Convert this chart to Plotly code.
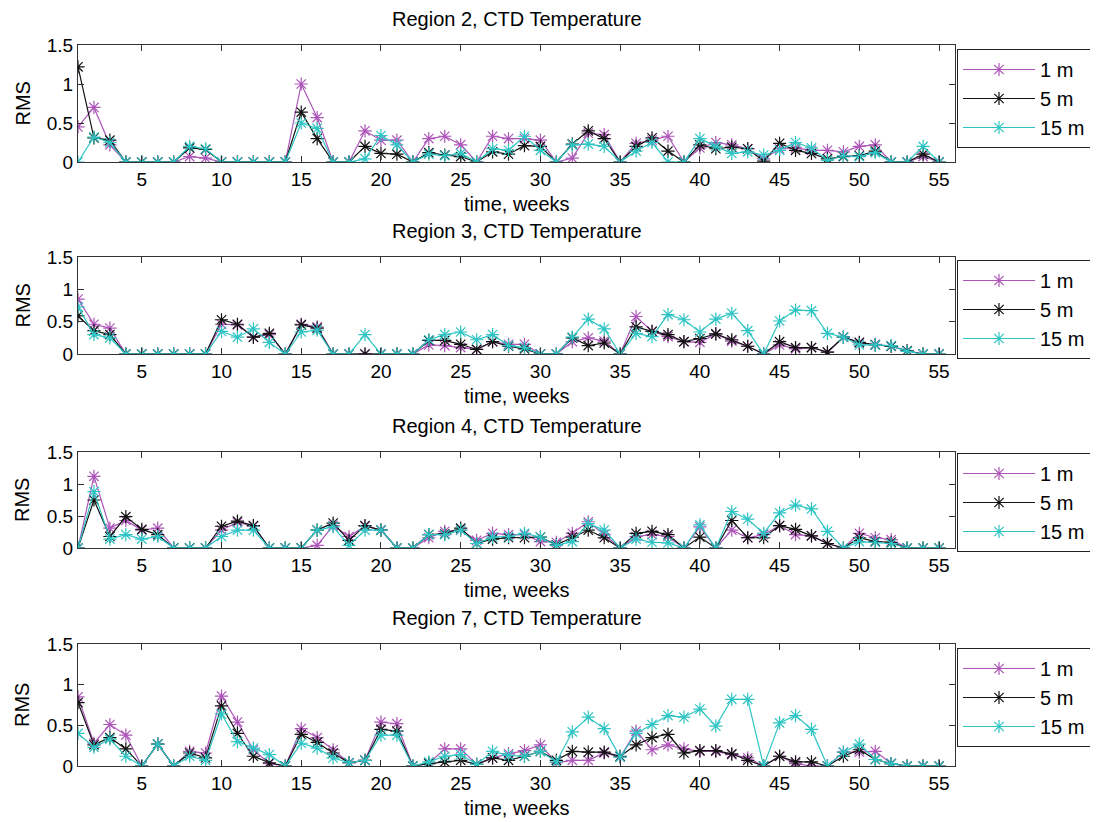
import plotly.graph_objects as go

weeks = list(range(1, 56))

regions = ["Region 2, CTD Temperature", "Region 3, CTD Temperature",
           "Region 4, CTD Temperature", "Region 7, CTD Temperature"]
depth_labels = ["1 m", "5 m", "15 m"]

# Region 2
r2_1m = [0.45,0.70,0.22,0,0,0,0,0.07,0.05,0, 0,0,0,0,1.00,0.57,0,0,0.40,0.28,
         0.28,0,0.30,0.33,0.22,0,0.33,0.30,0.30,0.28, 0,0.05,0.37,0.35,0,0.24,0.28,0.33,0,0.18,
         0.25,0.22,0.17,0.04,0.17,0.18,0.15,0.15,0.13,0.20, 0.22,0,0,0.07,0]
r2_5m = [1.22,0.31,0.28,0,0,0,0,0.18,0.16,0, 0,0,0,0,0.64,0.30,0,0,0.20,0.11,
         0.10,0,0.12,0.09,0.07,0,0.13,0.10,0.21,0.20, 0,0.23,0.40,0.30,0,0.20,0.31,0.14,0,0.22,
         0.17,0.19,0.17,0.01,0.24,0.15,0.11,0.04,0.07,0.08, 0.14,0,0,0.10,0]
r2_15m = [0,0.32,0.25,0,0,0,0,0.20,0.17,0, 0,0,0,0,0.50,0.43,0,0,0.04,0.34,
          0.22,0,0.10,0.08,0.11,0,0.17,0.15,0.33,0.15, 0,0.22,0.23,0.20,0,0.14,0.25,0,0,0.30,
          0.20,0.11,0.13,0.09,0.15,0.25,0.18,0.02,0.08,0.07, 0.12,0,0,0.20,0]

# Region 3
r3_1m = [0.85,0.46,0.40,0,0,0,0,0,0,0.46, 0.45,0.26,0.30,0,0.46,0.42,0,0,0,0,
         0,0,0.14,0.13,0.10,0.07,0.19,0.15,0.15,0, 0,0.19,0.25,0.20,0,0.58,0.35,0.27,0.19,0.18,
         0.31,0.20,0.12,0,0.14,0.08,0.10,0.03,0.26,0.17, 0.15,0.12,0.05,0,0]
r3_5m = [0.59,0.36,0.30,0,0,0,0,0,0,0.53, 0.46,0.26,0.32,0,0.45,0.40,0,0,0,0,
         0,0,0.21,0.21,0.15,0.07,0.19,0.12,0.08,0, 0,0.25,0.13,0.17,0,0.42,0.35,0.30,0.19,0.24,
         0.31,0.22,0.12,0,0.19,0.10,0.10,0.03,0.26,0.18, 0.14,0.12,0.05,0,0]
r3_15m = [0.73,0.30,0.25,0,0,0,0,0,0,0.35, 0.26,0.39,0.18,0,0.34,0.37,0,0,0.30,0,
          0,0,0.22,0.30,0.34,0.22,0.30,0.13,0.10,0, 0,0.26,0.54,0.39,0,0.32,0.27,0.61,0.53,0.34,
          0.54,0.63,0.36,0,0.51,0.68,0.67,0.32,0.26,0.14, 0.14,0.13,0.04,0,0]

# Region 4
r4_1m = [0,1.12,0.31,0.43,0.28,0.31,0,0,0,0.28, 0.40,0.34,0,0,0,0.04,0.35,0.18,0.34,0.28,
         0,0,0.16,0.26,0.28,0.12,0.23,0.21,0.21,0.10, 0.09,0.23,0.41,0.21,0,0.18,0.21,0.18,0,0.33,
         0,0.28,0.16,0.21,0.35,0.21,0.19,0.07,0,0.23, 0.16,0.13,0,0,0]
r4_5m = [0,0.75,0.18,0.49,0.29,0.21,0,0,0,0.34, 0.42,0.35,0,0,0,0.28,0.39,0.12,0.35,0.28,
         0,0,0.21,0.22,0.31,0.07,0.14,0.16,0.16,0.17, 0.05,0.17,0.28,0.16,0,0.23,0.26,0.21,0,0.17,
         0,0.43,0.16,0.16,0.35,0.29,0.19,0.07,0,0.16, 0.10,0.09,0,0,0]
r4_15m = [0,0.88,0.14,0.21,0.14,0.18,0,0,0,0.18, 0.28,0.28,0,0,0,0.28,0.33,0.04,0.28,0.28,
          0,0,0.21,0.21,0.28,0.07,0.17,0.18,0.23,0.17, 0.04,0.10,0.38,0.28,0,0.14,0.09,0.08,0,0.36,
          0,0.57,0.45,0.23,0.55,0.67,0.61,0.26,0,0.10, 0.09,0.07,0,0,0]

# Region 7
r7_1m = [0.85,0.28,0.51,0.38,0,0.27,0,0.18,0.16,0.86, 0.54,0.20,0.03,0,0.46,0.35,0.20,0.04,0.07,0.54,
         0.52,0,0.03,0.21,0.21,0.02,0.10,0.15,0.19,0.26, 0.04,0.07,0.07,0.16,0.11,0.43,0.20,0.26,0.21,0.18,
         0.18,0.14,0.10,0,0.12,0.03,0,0,0.17,0.17, 0.18,0.03,0,0,0]
r7_5m = [0.78,0.26,0.35,0.21,0,0.27,0,0.16,0.10,0.74, 0.40,0.12,0.04,0,0.39,0.29,0.16,0.04,0.07,0.45,
         0.43,0,0.03,0.05,0.07,0.02,0.10,0.07,0.12,0.18, 0.07,0.18,0.17,0.17,0.12,0.26,0.35,0.39,0.16,0.19,
         0.19,0.15,0.07,0,0.12,0.05,0.05,0,0.12,0.20, 0.08,0.03,0,0,0]
r7_15m = [0.40,0.23,0.33,0.12,0,0.27,0,0.12,0.07,0.64, 0.30,0.22,0.14,0,0.28,0.22,0.10,0.04,0.07,0.38,
          0.38,0,0.05,0.12,0.14,0.02,0.18,0.13,0.12,0.18, 0.05,0.42,0.60,0.46,0.11,0.40,0.51,0.62,0.60,0.70,
          0.49,0.82,0.82,0,0.53,0.62,0.45,0,0.17,0.27, 0.08,0.03,0,0,0]

panel_series = [
    [r2_1m, r2_5m, r2_15m],
    [r3_1m, r3_5m, r3_15m],
    [r4_1m, r4_5m, r4_15m],
    [r7_1m, r7_5m, r7_15m],
]

colors = ["#AD55B9", "#111111", "#2EC4C4"]
W, H = 1098, 822
OFF = 8  # page body offset of the plot div
FONT = "Liberation Sans, Arial, Helvetica, sans-serif"

# panel pixel geometry in the screenshot (top, bottom)
panels_px = [(45, 162), (257, 354), (452, 548), (644, 766)]
legend_top_px = [49, 260, 453, 648]
x_left, x_right = 78, 955


def px_x(v):
    return (v - OFF) / W


def px_y(v):
    return 1 - (v - OFF) / H


fig = go.Figure()
layout = dict(
    width=W, height=H,
    margin=dict(l=0, r=0, t=0, b=0, autoexpand=False),
    paper_bgcolor="white", plot_bgcolor="white",
    font=dict(family=FONT, size=19, color="black"),
    showlegend=True,
    annotations=[],
)

for i, series in enumerate(panel_series):
    n = i + 1
    xa = "x" if n == 1 else f"x{n}"
    ya = "y" if n == 1 else f"y{n}"
    lg = "legend" if n == 1 else f"legend{n}"
    for j, vals in enumerate(series):
        fig.add_trace(go.Scatter(
            x=weeks, y=vals, name=depth_labels[j], mode="lines+markers",
            xaxis=xa, yaxis=ya, legend=lg,
            line=dict(color=colors[j], width=1.2),
            marker=dict(symbol="asterisk-open", size=11,
                        line=dict(color=colors[j], width=1.2)),
        ))
    top, bot = panels_px[i]
    xkey = "xaxis" if n == 1 else f"xaxis{n}"
    ykey = "yaxis" if n == 1 else f"yaxis{n}"
    layout[xkey] = dict(
        domain=[px_x(x_left), px_x(x_right)], anchor=ya, range=[1, 56],
        tickmode="array", tickvals=list(range(5, 56, 5)),
        ticks="inside", ticklen=6, tickcolor="#333", tickwidth=1,
        showline=True, linecolor="#333", linewidth=1, mirror="ticks",
        showgrid=False, zeroline=False, automargin=False,
        tickfont=dict(size=19, family=FONT),
    )
    layout[ykey] = dict(
        domain=[px_y(bot), px_y(top)], anchor=xa, range=[0, 1.5],
        tickmode="array", tickvals=[0, 0.5, 1, 1.5], ticktext=["0", "0.5", "1", "1.5"],
        ticks="inside", ticklen=6, tickcolor="#333", tickwidth=1,
        showline=True, linecolor="#333", linewidth=1, mirror="ticks",
        showgrid=False, zeroline=False, automargin=False,
        tickfont=dict(size=19, family=FONT),
    )
    layout[lg] = dict(
        x=px_x(957), y=px_y(legend_top_px[i]), xanchor="left", yanchor="top",
        bordercolor="#222", borderwidth=1, bgcolor="white",
        font=dict(size=20, family=FONT), itemwidth=72, tracegroupgap=0,
    )
    xc = px_x((x_left + x_right) / 2)
    layout["annotations"] += [
        dict(text=regions[i], x=xc, y=px_y(top - 26), xref="paper", yref="paper",
             xanchor="center", yanchor="middle", showarrow=False, font=dict(size=20)),
        dict(text="time, weeks", x=xc, y=px_y(bot + 42), xref="paper", yref="paper",
             xanchor="center", yanchor="middle", showarrow=False, font=dict(size=20)),
        dict(text="RMS", x=px_x(22), y=px_y((top + bot) / 2), xref="paper", yref="paper",
             xanchor="center", yanchor="middle", showarrow=False, textangle=-90,
             font=dict(size=20)),
    ]

fig.update_layout(**layout)
fig.write_html("out.html")
